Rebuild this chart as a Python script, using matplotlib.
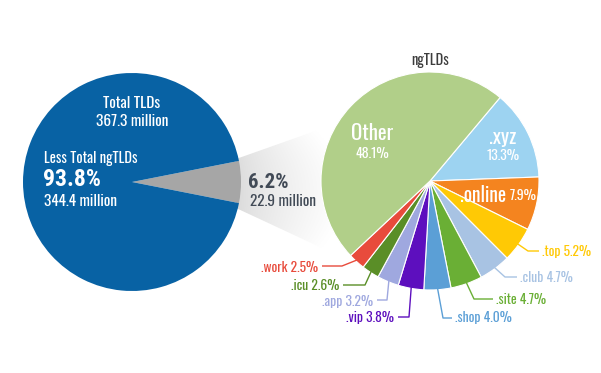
import numpy as np
import matplotlib.pyplot as plt
from matplotlib.patches import Polygon
from matplotlib import font_manager

# left pie: share of all TLDs
total_labels = ['ngTLDs', 'Less Total ngTLDs']
total_share = [6.2, 93.8]
total_colors = ['#a6a6a6', '#0862a4']

# right pie: ngTLD breakdown (clockwise from .xyz)
tld_names = ['.xyz', '.online', '.top', '.club', '.site', '.shop', '.vip', '.app', '.icu', '.work', 'Other']
tld_share = [13.3, 7.9, 5.2, 4.7, 4.7, 4.0, 3.8, 3.2, 2.6, 2.5, 48.1]
tld_colors = ['#9dd3f1', '#f4841f', '#ffc905', '#a8c3e3', '#6aaf35', '#5b9fd6',
              '#5d0fbe', '#9fa8df', '#5a8e27', '#e84b3c', '#b1cf89']

# pick a condensed face if one is installed
ttf = font_manager.fontManager.ttflist
installed = {f.name for f in ttf}
wanted = ['Oswald', 'Roboto Condensed', 'PT Sans Narrow', 'Archivo Narrow',
          'Liberation Sans Narrow', 'Arial Narrow']
narrow = next((n for n in wanted if n in installed), 'DejaVu Sans')
plt.rcParams['font.family'] = [narrow, 'DejaVu Sans']


def heavy_ok(name):
    return any(f.name == name and str(f.weight) in ('600', '700', 'bold', 'semibold', 'demibold')
               for f in ttf)


bold_family = next((n for n in wanted if n in installed and heavy_ok(n)), 'DejaVu Sans')
BOLD = dict(family=[bold_family, 'DejaVu Sans'], fontweight='bold')

H = 373
fig = plt.figure(figsize=(6.01, 3.73), dpi=100)
ax = fig.add_axes([0, 0, 1, 1])

lc = (132, H - 182)
rc = (430, H - 181)
R = 109

# gradient band joining the two pies
band = Polygon([(236, H - 159), (335, H - 124), (352, H - 262), (236, H - 208)],
               closed=True, facecolor='none', edgecolor='none')
ax.add_patch(band)
gx = np.linspace(0, 1, 200)
gy = np.linspace(-1, 1, 100)
shade = 0.85 + 0.15 * gx[None, :] ** 0.7 + 0.04 * np.abs(gy[:, None]) ** 2
shade = np.clip(shade, 0, 1)
img = ax.imshow(np.dstack([shade] * 3), extent=(236, 345, H - 265, H - 120),
                origin='lower', aspect='auto', zorder=0, interpolation='bilinear')
img.set_clip_path(band)

ax.pie(total_share, colors=total_colors, center=lc, radius=R,
       startangle=-total_share[0] / 100 * 180, counterclock=True,
       wedgeprops=dict(linewidth=0), frame=True)

wedges, _ = ax.pie(tld_share, colors=tld_colors, center=rc, radius=R,
                   startangle=50, counterclock=False,
                   wedgeprops=dict(linewidth=0.8, edgecolor='white'), frame=True)
ax.set_xlim(0, 601)
ax.set_ylim(0, H)
ax.set_aspect('equal')
ax.axis('off')

# left pie text
ax.text(lc[0], H - 103, 'Total TLDs', color='white', fontsize=11, ha='center', va='center')
ax.text(lc[0], H - 122, '367.3 million', color='white', fontsize=11, ha='center', va='center')
ax.text(44, H - 159, total_labels[1], color='white', fontsize=10.5, ha='left', va='center')
ax.text(43, H - 180, f'{total_share[1]}%', color='white', fontsize=17, ha='left', va='center',
        **BOLD)
ax.text(44, H - 201, '344.4 million', color='white', fontsize=11, ha='left', va='center')
ax.text(248, H - 182, f'{total_share[0]}%', color='#414a56', fontsize=15, ha='left', va='center',
        **BOLD)
ax.text(250, H - 202, '22.9 million', color='#414a56', fontsize=11, ha='left', va='center')

ax.text(rc[0], H - 61, 'ngTLDs', color='#3d3d3d', fontsize=10.5, ha='center', va='center')

# labels inside big slices
ax.text(372, H - 133, tld_names[10], color='white', fontsize=15, ha='center', va='center')
ax.text(372, H - 153, f'{tld_share[10]}%', color='white', fontsize=10, ha='center', va='center')
ax.text(503, H - 137, tld_names[0], color='white', fontsize=15, ha='center', va='center')
ax.text(503, H - 156, f'{tld_share[0]}%', color='white', fontsize=10, ha='center', va='center')
ax.text(506, H - 195, tld_names[1], color='white', fontsize=14, ha='right', va='center')
ax.text(510, H - 195, f'{tld_share[1]}%', color='white', fontsize=10, ha='left', va='center')

# leader lines for small slices: (elbow, line end, text anchor x, y, align)
leaders = {
    '.top':  ((528, 251), (539, 251), 542, 251, 'left'),
    '.club': ((505, 277), (517, 277), 520, 277, 'left'),
    '.site': ((474, 299), (493, 299), 496, 299, 'left'),
    '.shop': ((443, 318), (452, 318), 455, 318, 'left'),
    '.vip':  ((409, 317), (398, 317), 394, 317, 'right'),
    '.app':  ((387, 300), (377, 300), 373, 301, 'right'),
    '.icu':  ((365, 285), (343, 285), 339, 286, 'right'),
    '.work': ((342, 266), (322, 266), 318, 267, 'right'),
}
for w, name, share, col in zip(wedges, tld_names, tld_share, tld_colors):
    if name not in leaders:
        continue
    elbow, end, tx, ty, ha = leaders[name]
    mid = np.deg2rad((w.theta1 + w.theta2) / 2)
    sx = rc[0] + (R - 3) * np.cos(mid)
    sy = rc[1] + (R - 3) * np.sin(mid)
    ax.plot([sx, elbow[0], end[0]], [sy, H - elbow[1], H - end[1]], color=col, lw=1,
            solid_capstyle='butt', zorder=1)
    ax.text(tx, H - ty, f'{name} {share}%', color=col, fontsize=9.8, ha=ha, va='center')

fig.savefig('out.png', dpi=100)
